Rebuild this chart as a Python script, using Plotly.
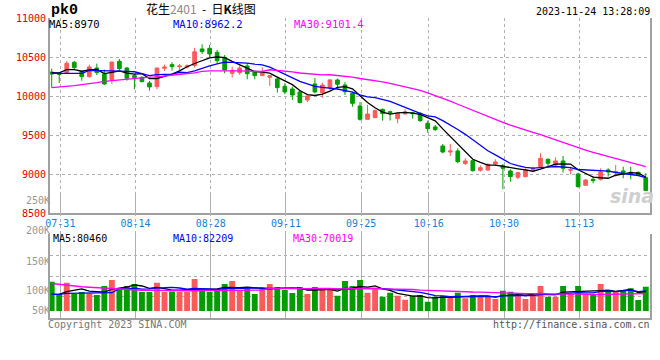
import numpy as np
import pandas as pd
import plotly.graph_objects as go

# ---------------- data ----------------
dates = ["07-28", "07-31",
         "08-01", "08-02", "08-03", "08-04", "08-07", "08-08", "08-09", "08-10", "08-11",
         "08-14", "08-15", "08-16", "08-17", "08-18", "08-21", "08-22", "08-23", "08-24", "08-25",
         "08-28", "08-29", "08-30", "08-31",
         "09-01", "09-04", "09-05", "09-06", "09-07", "09-08", "09-11", "09-12", "09-13", "09-14", "09-15",
         "09-18", "09-19", "09-20", "09-21", "09-22", "09-25", "09-26", "09-27", "09-28",
         "10-09", "10-10", "10-11", "10-12", "10-13", "10-16", "10-17", "10-18", "10-19", "10-20",
         "10-23", "10-24", "10-25", "10-26", "10-27", "10-30", "10-31",
         "11-01", "11-02", "11-03", "11-06", "11-07", "11-08", "11-09", "11-10",
         "11-13", "11-14", "11-15", "11-16", "11-17", "11-20", "11-21", "11-22", "11-23", "11-24"]

opens = [10310, 10295, 10303, 10436, 10316, 10252, 10363, 10282, 10210, 10449,
         10363, 10265, 10244, 10171, 10124, 10359, 10406, 10380, 10376, 10395,
         10607, 10615, 10564, 10500, 10295, 10303, 10389, 10316, 10265, 10244,
         10222, 10128, 10094, 10056, 9953, 10158, 10047, 10111, 10210, 10145,
         10038, 9876, 9705, 9726, 9833, 9803, 9714, 9773, 9790, 9782,
         9654, 9607, 9363, 9286, 9299, 9137, 9175, 9051, 9055, 9132,
         9111, 9043, 8962, 8970, 9064, 9098, 9192, 9120, 9171, 9051,
         9004, 8859, 8936, 8936, 9056, 9026, 9043, 9026, 9026, 8957]
highs = [10355, 10300, 10453, 10453, 10325, 10406, 10419, 10342, 10440, 10479,
         10376, 10290, 10257, 10197, 10363, 10406, 10436, 10415, 10410, 10620,
         10667, 10658, 10594, 10530, 10380, 10397, 10423, 10325, 10372, 10265,
         10244, 10167, 10124, 10081, 10004, 10235, 10175, 10218, 10227, 10180,
         10060, 9927, 9889, 9833, 9842, 9816, 9790, 9833, 9799, 9799,
         9688, 9632, 9389, 9389, 9333, 9205, 9184, 9115, 9141, 9192,
         9132, 9064, 9034, 9077, 9098, 9269, 9205, 9218, 9235, 9098,
         9021, 8936, 8979, 9077, 9077, 9120, 9098, 9098, 9034, 9013]
lows = [10110, 10170, 10300, 10338, 10200, 10240, 10273, 10145, 10158, 10333,
        10200, 10090, 10180, 10073, 10090, 10325, 10329, 10325, 10355, 10368,
        10543, 10500, 10423, 10295, 10240, 10273, 10218, 10218, 10265, 10133,
        10047, 10026, 9953, 9910, 9927, 10038, 9983, 10081, 10103, 10017,
        9868, 9688, 9700, 9720, 9688, 9690, 9654, 9770, 9714, 9671,
        9534, 9556, 9269, 9235, 9141, 9120, 9034, 9034, 9047, 9107,
        8808, 8906, 8936, 8962, 9034, 9090, 9098, 9090, 9021, 9000,
        8829, 8859, 8885, 8919, 8970, 8970, 8949, 8936, 8979, 8791]
closes = [10285, 10280, 10423, 10368, 10252, 10376, 10303, 10158, 10440, 10355,
          10231, 10240, 10188, 10120, 10363, 10376, 10380, 10389, 10389, 10570,
          10573, 10543, 10457, 10338, 10333, 10363, 10290, 10265, 10300, 10265,
          10111, 10056, 10017, 9919, 10004, 10056, 10145, 10210, 10154, 10058,
          9910, 9705, 9773, 9816, 9778, 9790, 9782, 9799, 9778, 9688,
          9585, 9573, 9286, 9299, 9162, 9171, 9047, 9085, 9128, 9158,
          9077, 8970, 9021, 9056, 9073, 9205, 9141, 9171, 9077, 9060,
          8842, 8927, 8919, 9030, 9030, 9034, 9000, 9013, 8991, 8791]
volumes = [117200, 68000, 113200, 68000, 76000, 70800, 64000, 100000, 124000, 92000,
           100000, 108000, 76000, 76000, 113200, 76000, 78000, 76000, 76000, 128000,
           81200, 76000, 80000, 108000, 120000, 82000, 89200, 68000, 92000, 108000,
           96000, 84000, 72000, 96000, 68000, 96000, 88000, 86000, 61000, 120000,
           100000, 124000, 73000, 87000, 57000, 73000, 61000, 45000, 61000, 64000,
           37000, 57000, 60000, 57000, 73000, 51000, 64000, 57000, 57000, 48000,
           81000, 77000, 64000, 48000, 64000, 100000, 57000, 57000, 100000, 68000,
           100000, 64000, 68000, 108000, 77000, 77000, 81000, 91000, 44000, 97000]

# moving-average values visible before enough bars exist in the window
price_ma5_head = [10303, 10300, 10342, 10342]
price_ma10_head = [10295, 10295, 10295, 10295, 10295, 10333, 10333, 10333, 10333]
price_ma30_head = [10111, 10118, 10128, 10138, 10150, 10160, 10175, 10192, 10202, 10210,
                   10222, 10232, 10240, 10245, 10250, 10262, 10270, 10280, 10292, 10300,
                   10320, 10325, 10328, 10328, 10327, 10326, 10324, 10322, 10318]
vol_ma5_head = [66800, 66800, 77200, 82800]
vol_ma10_head = [66800, 66800, 70800, 70800, 73200, 73200, 73200, 73200, 73200]
vol_ma30_head = [110000, 106000, 103000, 100000, 97000, 95000, 93000, 91000, 89000, 87000,
                 85000, 84000, 83000, 83000, 82000, 81000, 81000, 81000, 81000, 81000,
                 81000, 81000, 82000, 83000, 84000, 84000, 84000, 84000, 84000]

date_labels = ["07-31", "08-14", "08-28", "09-11", "09-25", "10-16", "10-30", "11-13"]
price_ticks = [8500, 9000, 9500, 10000, 10500, 11000]
vol_tick_text = ["50K", "100K", "150K", "200K", "250K"]
price_legend = ["MA5:8970", "MA10:8962.2", "MA30:9101.4"]
vol_legend = ["MA5:80460", "MA10:82209", "MA30:70019"]
code_text = "pk0"
title_html = "花生<span style='color:#8a8a8a'>2401</span> &nbsp;- &nbsp;日<b>K</b>线图"
timestamp = "2023-11-24 13:28:09"
copyright_text = "Copyright 2023 SINA.COM"
url_text = "http://finance.sina.com.cn"

# ---------------- layout constants ----------------
W, H = 660, 360
ML, MR, MT, MB = 50, 10, 18, 42
PW, PH = W - ML - MR, H - MT - MB
MONO = "DejaVu Sans Mono"
UP, DN = "#ff5a5a", "#009c00"
C5, C10, C30 = "#000000", "#0000ff", "#ff00ff"
GRID = "#b0b0b0"
FRAME = "#a0a0a0"


def fx(px):
    return (px - ML) / PW


def fy(py):
    return (H - MB - py) / PH


price_dom = [fy(213.3), fy(18.3)]
vol_dom = [fy(317.7), fy(234.3)]
cand_range = [(50 - 51.7) / 7.52, (650 - 51.7) / 7.52]
vol_range = [(311 - 317.7) * 4000, (311 - 234.3) * 4000]
vol_label_px = [310, 290.3, 261, 230.7, 200.7]
grid_shift = 0.15


def moving_avg(values, n, head):
    s = pd.Series(values, dtype=float).rolling(n).mean().to_numpy()
    s[:len(head)] = head
    return s


idx = list(range(len(dates)))
label_idx = [dates.index(d) + grid_shift for d in date_labels]
bar_colors = [UP if c > o else DN for o, c in zip(opens, closes)]

fig = go.Figure()
fig.add_trace(go.Candlestick(
    x=idx, open=opens, high=highs, low=lows, close=closes,
    increasing=dict(line=dict(color=UP, width=1), fillcolor=UP),
    decreasing=dict(line=dict(color=DN, width=1), fillcolor=DN),
    whiskerwidth=0, xaxis="x", yaxis="y", hoverinfo="skip"))
for n, head, col in [(5, price_ma5_head, C5), (10, price_ma10_head, C10), (30, price_ma30_head, C30)]:
    fig.add_trace(go.Scatter(x=idx, y=moving_avg(closes, n, head), mode="lines",
                             line=dict(color=col, width=1.3), xaxis="x", yaxis="y",
                             hoverinfo="skip"))
fig.add_trace(go.Bar(x=idx, y=volumes, marker=dict(color=bar_colors, line=dict(width=0)),
                     width=0.78, xaxis="x2", yaxis="y2", hoverinfo="skip"))
for n, head, col in [(5, vol_ma5_head, C5), (10, vol_ma10_head, C10), (30, vol_ma30_head, C30)]:
    fig.add_trace(go.Scatter(x=idx, y=moving_avg(volumes, n, head), mode="lines",
                             line=dict(color=col, width=1.3), xaxis="x2", yaxis="y2",
                             hoverinfo="skip"))
# invisible helpers so the extra grid / label axes are drawn
for xa, ya, xv, yv in [("x2", "y4", 0, 1), ("x", "y3", 0, vol_label_px[0])]:
    fig.add_trace(go.Scatter(x=[xv], y=[yv], mode="markers", marker=dict(opacity=0),
                             xaxis=xa, yaxis=ya, hoverinfo="skip"))

dotgrid = dict(showgrid=True, gridcolor=GRID, griddash="dot", gridwidth=1)

fig.update_layout(
    width=W, height=H, showlegend=False,
    margin=dict(l=ML, r=MR, t=MT, b=MB),
    paper_bgcolor="white", plot_bgcolor="rgba(0,0,0,0)",
    font=dict(family=MONO, size=10, color="#000"),
    xaxis=dict(domain=[0, 1], anchor="y", range=cand_range, rangeslider=dict(visible=False),
               tickmode="array", tickvals=label_idx, ticktext=date_labels, automargin=False,
               zeroline=False, ticks="", showline=True, linecolor=FRAME, linewidth=2,
               tickfont=dict(family=MONO, size=10, color="#1b7fcf"), **dotgrid),
    xaxis2=dict(domain=[0, 1], anchor="y2", range=cand_range, automargin=False,
                tickmode="array", tickvals=label_idx, showticklabels=False,
                zeroline=False, ticks="", showline=True, linecolor=FRAME, linewidth=2,
                **dotgrid),
    yaxis=dict(domain=price_dom, anchor="x", range=[price_ticks[0], price_ticks[-1]],
               tickmode="array", tickvals=price_ticks, ticktext=[str(v) for v in price_ticks],
               zeroline=False, ticks="", automargin=False,
               showline=True, mirror=True, linecolor=FRAME, linewidth=2,
               tickfont=dict(family=MONO, size=10, color="#e00000"), **dotgrid),
    yaxis2=dict(domain=vol_dom, anchor="x2", range=vol_range, automargin=False,
                showline=True, mirror=True, linecolor=FRAME, linewidth=2,
                showticklabels=False, showgrid=False, zeroline=False, ticks=""),
    yaxis4=dict(overlaying="y2", anchor="x2", range=[0, 4], tickmode="linear", tick0=0, dtick=1,
                automargin=False, showticklabels=False, zeroline=False, ticks="",
                showline=False, **dotgrid),
    yaxis3=dict(domain=[fy(318), fy(195)], anchor="free", position=0, range=[318, 195],
                tickmode="array", tickvals=vol_label_px, ticktext=vol_tick_text,
                automargin=False, showgrid=False, zeroline=False, showline=False, ticks="",
                tickfont=dict(family=MONO, size=10, color="#999999")),
)

ann = []


def add_text(text, px, py, anchor="left", size=10, color="#000", family=MONO):
    ann.append(dict(text=text, x=fx(px), y=fy(py), xref="paper", yref="paper",
                    xanchor=anchor, yanchor="middle", showarrow=False,
                    font=dict(family=family, size=size, color=color)))


add_text("<b>" + code_text + "</b>", 49, 10.5, size=15, family="Liberation Mono")
add_text(title_html, 201, 9, anchor="center", size=12, family="Noto Sans CJK SC")
add_text(timestamp, 652, 12, anchor="right", size=10)
for text, px, col in zip(price_legend, [47, 171, 292], [C5, C10, C30]):
    add_text(text, px, 24.5, size=10.5, color=col)
for text, px, col in zip(vol_legend, [51, 171, 291], [C5, C10, C30]):
    add_text(text, px, 238.5, size=10, color=col)
add_text(copyright_text, 46, 324, size=10, color="#777777")
add_text(url_text, 652, 324, anchor="right", size=10, color="#555555")
add_text("<b><i>sina</i></b>", 632, 196, anchor="center", size=19, color="#cfcfcf",
         family="DejaVu Sans")
fig.update_layout(annotations=ann)

# the page body would otherwise add an 8px margin around the figure
fig.write_html("out.html", config={"displayModeBar": False},
               post_script="document.body.style.margin='0';document.body.style.overflow='hidden';")
